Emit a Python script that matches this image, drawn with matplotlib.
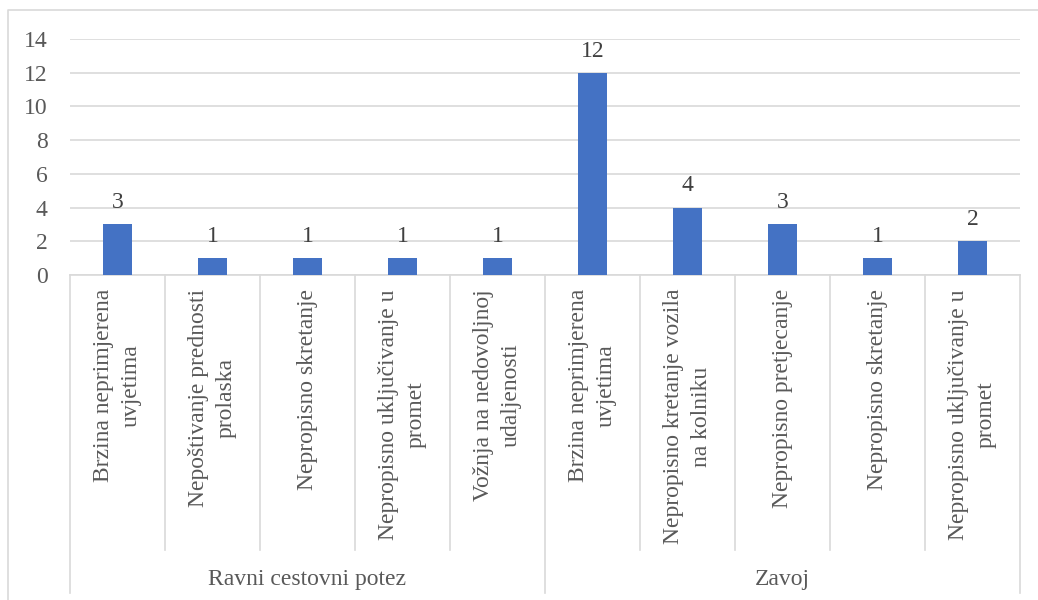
import matplotlib
matplotlib.use("Agg")
import matplotlib.pyplot as plt
from matplotlib.lines import Line2D

groups = ["Ravni cestovni potez", "Zavoj"]
group_sizes = [5, 5]
categories = [
    "Brzina neprimjerena\nuvjetima",
    "Nepoštivanje prednosti\nprolaska",
    "Nepropisno skretanje",
    "Nepropisno uključivanje u\npromet",
    "Vožnja na nedovoljnoj\nudaljenosti",
    "Brzina neprimjerena\nuvjetima",
    "Nepropisno kretanje vozila\nna kolniku",
    "Nepropisno pretjecanje",
    "Nepropisno skretanje",
    "Nepropisno uključivanje u\npromet",
]
values = [3, 1, 1, 1, 1, 12, 4, 3, 1, 2]
yticks = [0, 2, 4, 6, 8, 10, 12, 14]

W, H = 1038, 600
plt.rcParams['font.family'] = ['Liberation Serif', 'DejaVu Serif']
txt = '#595959'
gridc = '#d9d9d9'
fs = 17

fig = plt.figure(figsize=(W / 100, H / 100), dpi=100)
x0, x1 = 70, 1020
y_top, y_zero = 39, 275
ax = fig.add_axes([x0 / W, 1 - y_zero / H, (x1 - x0) / W, (y_zero - y_top) / H])
n = len(categories)
xs = list(range(n))
ax.bar(xs, values, width=0.31, color='#4472C4', zorder=3)
ax.set_xlim(-0.5, n - 0.5)
ax.set_ylim(0, 14)
ax.set_yticks(yticks)
ax.set_yticklabels([str(v) for v in yticks], fontsize=fs, color=txt)
ax.tick_params(axis='y', length=0, pad=16)
ax.set_xticks([])
for s in ['top', 'right', 'left']:
    ax.spines[s].set_visible(False)
ax.spines['bottom'].set_color(gridc)
ax.spines['bottom'].set_linewidth(1.2)
ax.yaxis.grid(True, color=gridc, linewidth=1.2, zorder=0)
ax.set_axisbelow(True)

for x, v in zip(xs, values):
    ax.annotate(str(v), (x, v), xytext=(0, 8), textcoords='offset points',
                ha='center', va='bottom', fontsize=fs, color='#404040')

def fx(px):
    return px / W

def fy(py):
    return 1 - py / H

slot = (x1 - x0) / n
for i, lab in enumerate(categories):
    cx = x0 + slot * (i + 0.5)
    fig.text(fx(cx), fy(289), lab, rotation=90, ha='center', va='top',
             multialignment='center', fontsize=fs, color=txt, linespacing=1.4)

boundaries = [0]
for g in group_sizes:
    boundaries.append(boundaries[-1] + g)
for i in range(n + 1):
    px = x0 + slot * i
    bottom = 593 if i in boundaries else 550
    fig.add_artist(Line2D([fx(px), fx(px)], [fy(y_zero), fy(bottom)],
                          color=gridc, linewidth=1.2))

for gi, g in enumerate(groups):
    a, b = boundaries[gi], boundaries[gi + 1]
    cx = x0 + slot * (a + b) / 2
    fig.text(fx(cx), fy(579), g, ha='center', va='center', fontsize=fs, color=txt)

fig.add_artist(Line2D([fx(8), fx(8), fx(1038)], [fy(600), fy(10), fy(10)],
                      color=gridc, linewidth=1.2))

fig.savefig('out.png', dpi=100)
